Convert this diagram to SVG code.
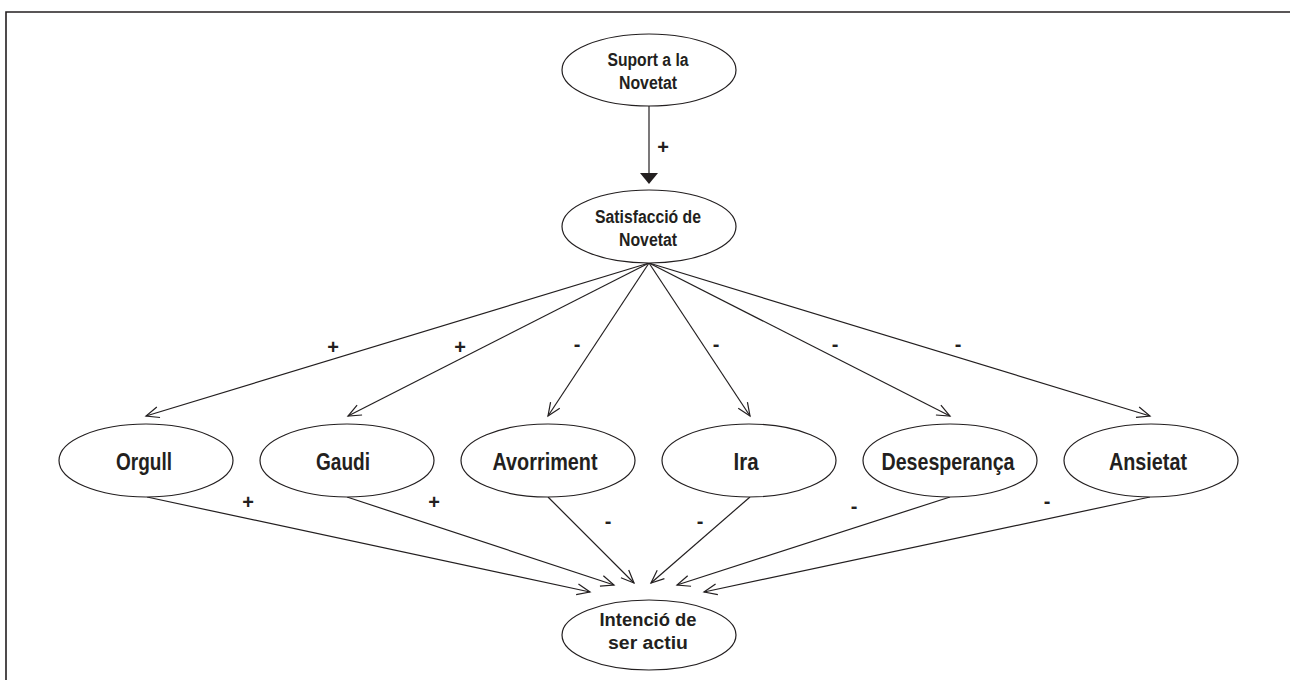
<svg xmlns="http://www.w3.org/2000/svg" width="1290" height="680" viewBox="0 0 1290 680">
<style>
.n ellipse{fill:#fff;stroke:#231f20;stroke-width:1.2}
text{font-family:"Liberation Sans",Arial,sans-serif;font-weight:bold;fill:#231f20;text-anchor:middle}
.s{font-size:18px}
.b{font-size:24px}
.l{font-size:20px}
#edges line{stroke:#231f20;stroke-width:1.2;fill:none}
.o{marker-end:url(#open)}
</style>
<defs>
<marker id="open" markerUnits="userSpaceOnUse" viewBox="-14 -7 16 14" markerWidth="16" markerHeight="14" refX="0" refY="0" orient="auto">
<path d="M-13,-5.5 L0,0 L-13,5.5" fill="none" stroke="#231f20" stroke-width="1.2"/>
</marker>
</defs>
<rect width="1290" height="680" fill="#fff"/>
<path d="M6,680 V12 H1290" fill="none" stroke="#231f20" stroke-width="1.6"/>
<g id="edges">
<line x1="649" y1="106" x2="649" y2="174"/>
<polygon points="640,173 658,173 649,184" fill="#231f20"/>
<line class="o" x1="649" y1="263" x2="146" y2="416"/>
<line class="o" x1="649" y1="263" x2="348" y2="416"/>
<line class="o" x1="649" y1="263" x2="548" y2="416"/>
<line class="o" x1="649" y1="263" x2="750" y2="416"/>
<line class="o" x1="649" y1="263" x2="950" y2="416"/>
<line class="o" x1="649" y1="263" x2="1150" y2="416"/>
<line class="o" x1="147" y1="497" x2="590" y2="592"/>
<line class="o" x1="347" y1="497" x2="614" y2="585"/>
<line class="o" x1="548" y1="497" x2="634" y2="583"/>
<line class="o" x1="750" y1="497" x2="651" y2="583"/>
<line class="o" x1="950" y1="497" x2="677" y2="585"/>
<line class="o" x1="1150" y1="497" x2="704" y2="592"/>
<text class="l" x="663" y="154">+</text>
<text class="l" x="333" y="354">+</text>
<text class="l" x="460" y="354">+</text>
<text class="l" x="577" y="351">-</text>
<text class="l" x="716" y="351">-</text>
<text class="l" x="835" y="351">-</text>
<text class="l" x="958" y="351">-</text>
<text class="l" x="248" y="509">+</text>
<text class="l" x="434" y="509">+</text>
<text class="l" x="608" y="528">-</text>
<text class="l" x="700" y="528">-</text>
<text class="l" x="854" y="513">-</text>
<text class="l" x="1047" y="508">-</text>
</g>
<g id="suport" class="n"><ellipse cx="649" cy="70" rx="87" ry="36"/><text class="s" x="648" y="66" textLength="81" lengthAdjust="spacingAndGlyphs">Suport a la</text><text class="s" x="648" y="89" textLength="58" lengthAdjust="spacingAndGlyphs">Novetat</text></g>
<g id="satisfaccio" class="n"><ellipse cx="649" cy="226.5" rx="87" ry="36.5"/><text class="s" x="648" y="223" textLength="106" lengthAdjust="spacingAndGlyphs">Satisfacció de</text><text class="s" x="648" y="246" textLength="58" lengthAdjust="spacingAndGlyphs">Novetat</text></g>
<g id="orgull" class="n"><ellipse cx="146" cy="460.5" rx="87" ry="36.5"/><text class="b" x="144" y="470" textLength="56" lengthAdjust="spacingAndGlyphs">Orgull</text></g>
<g id="gaudi" class="n"><ellipse cx="347" cy="460.5" rx="87" ry="36.5"/><text class="b" x="343" y="470" textLength="54" lengthAdjust="spacingAndGlyphs">Gaudi</text></g>
<g id="avorriment" class="n"><ellipse cx="548" cy="460.5" rx="87" ry="36.5"/><text class="b" x="545" y="470" textLength="105" lengthAdjust="spacingAndGlyphs">Avorriment</text></g>
<g id="ira" class="n"><ellipse cx="749" cy="460.5" rx="87" ry="36.5"/><text class="b" x="746" y="470" textLength="25" lengthAdjust="spacingAndGlyphs">Ira</text></g>
<g id="desesperanca" class="n"><ellipse cx="950" cy="460.5" rx="87" ry="36.5"/><text class="b" x="948" y="470" textLength="133" lengthAdjust="spacingAndGlyphs">Desesperança</text></g>
<g id="ansietat" class="n"><ellipse cx="1151" cy="460.5" rx="87" ry="36.5"/><text class="b" x="1148" y="470" textLength="78" lengthAdjust="spacingAndGlyphs">Ansietat</text></g>
<g id="intencio" class="n"><ellipse cx="649" cy="635" rx="87" ry="35"/><text class="s" x="648" y="626" textLength="97" lengthAdjust="spacingAndGlyphs">Intenció de</text><text class="s" x="648" y="649" textLength="80" lengthAdjust="spacingAndGlyphs">ser actiu</text></g>
</svg>
